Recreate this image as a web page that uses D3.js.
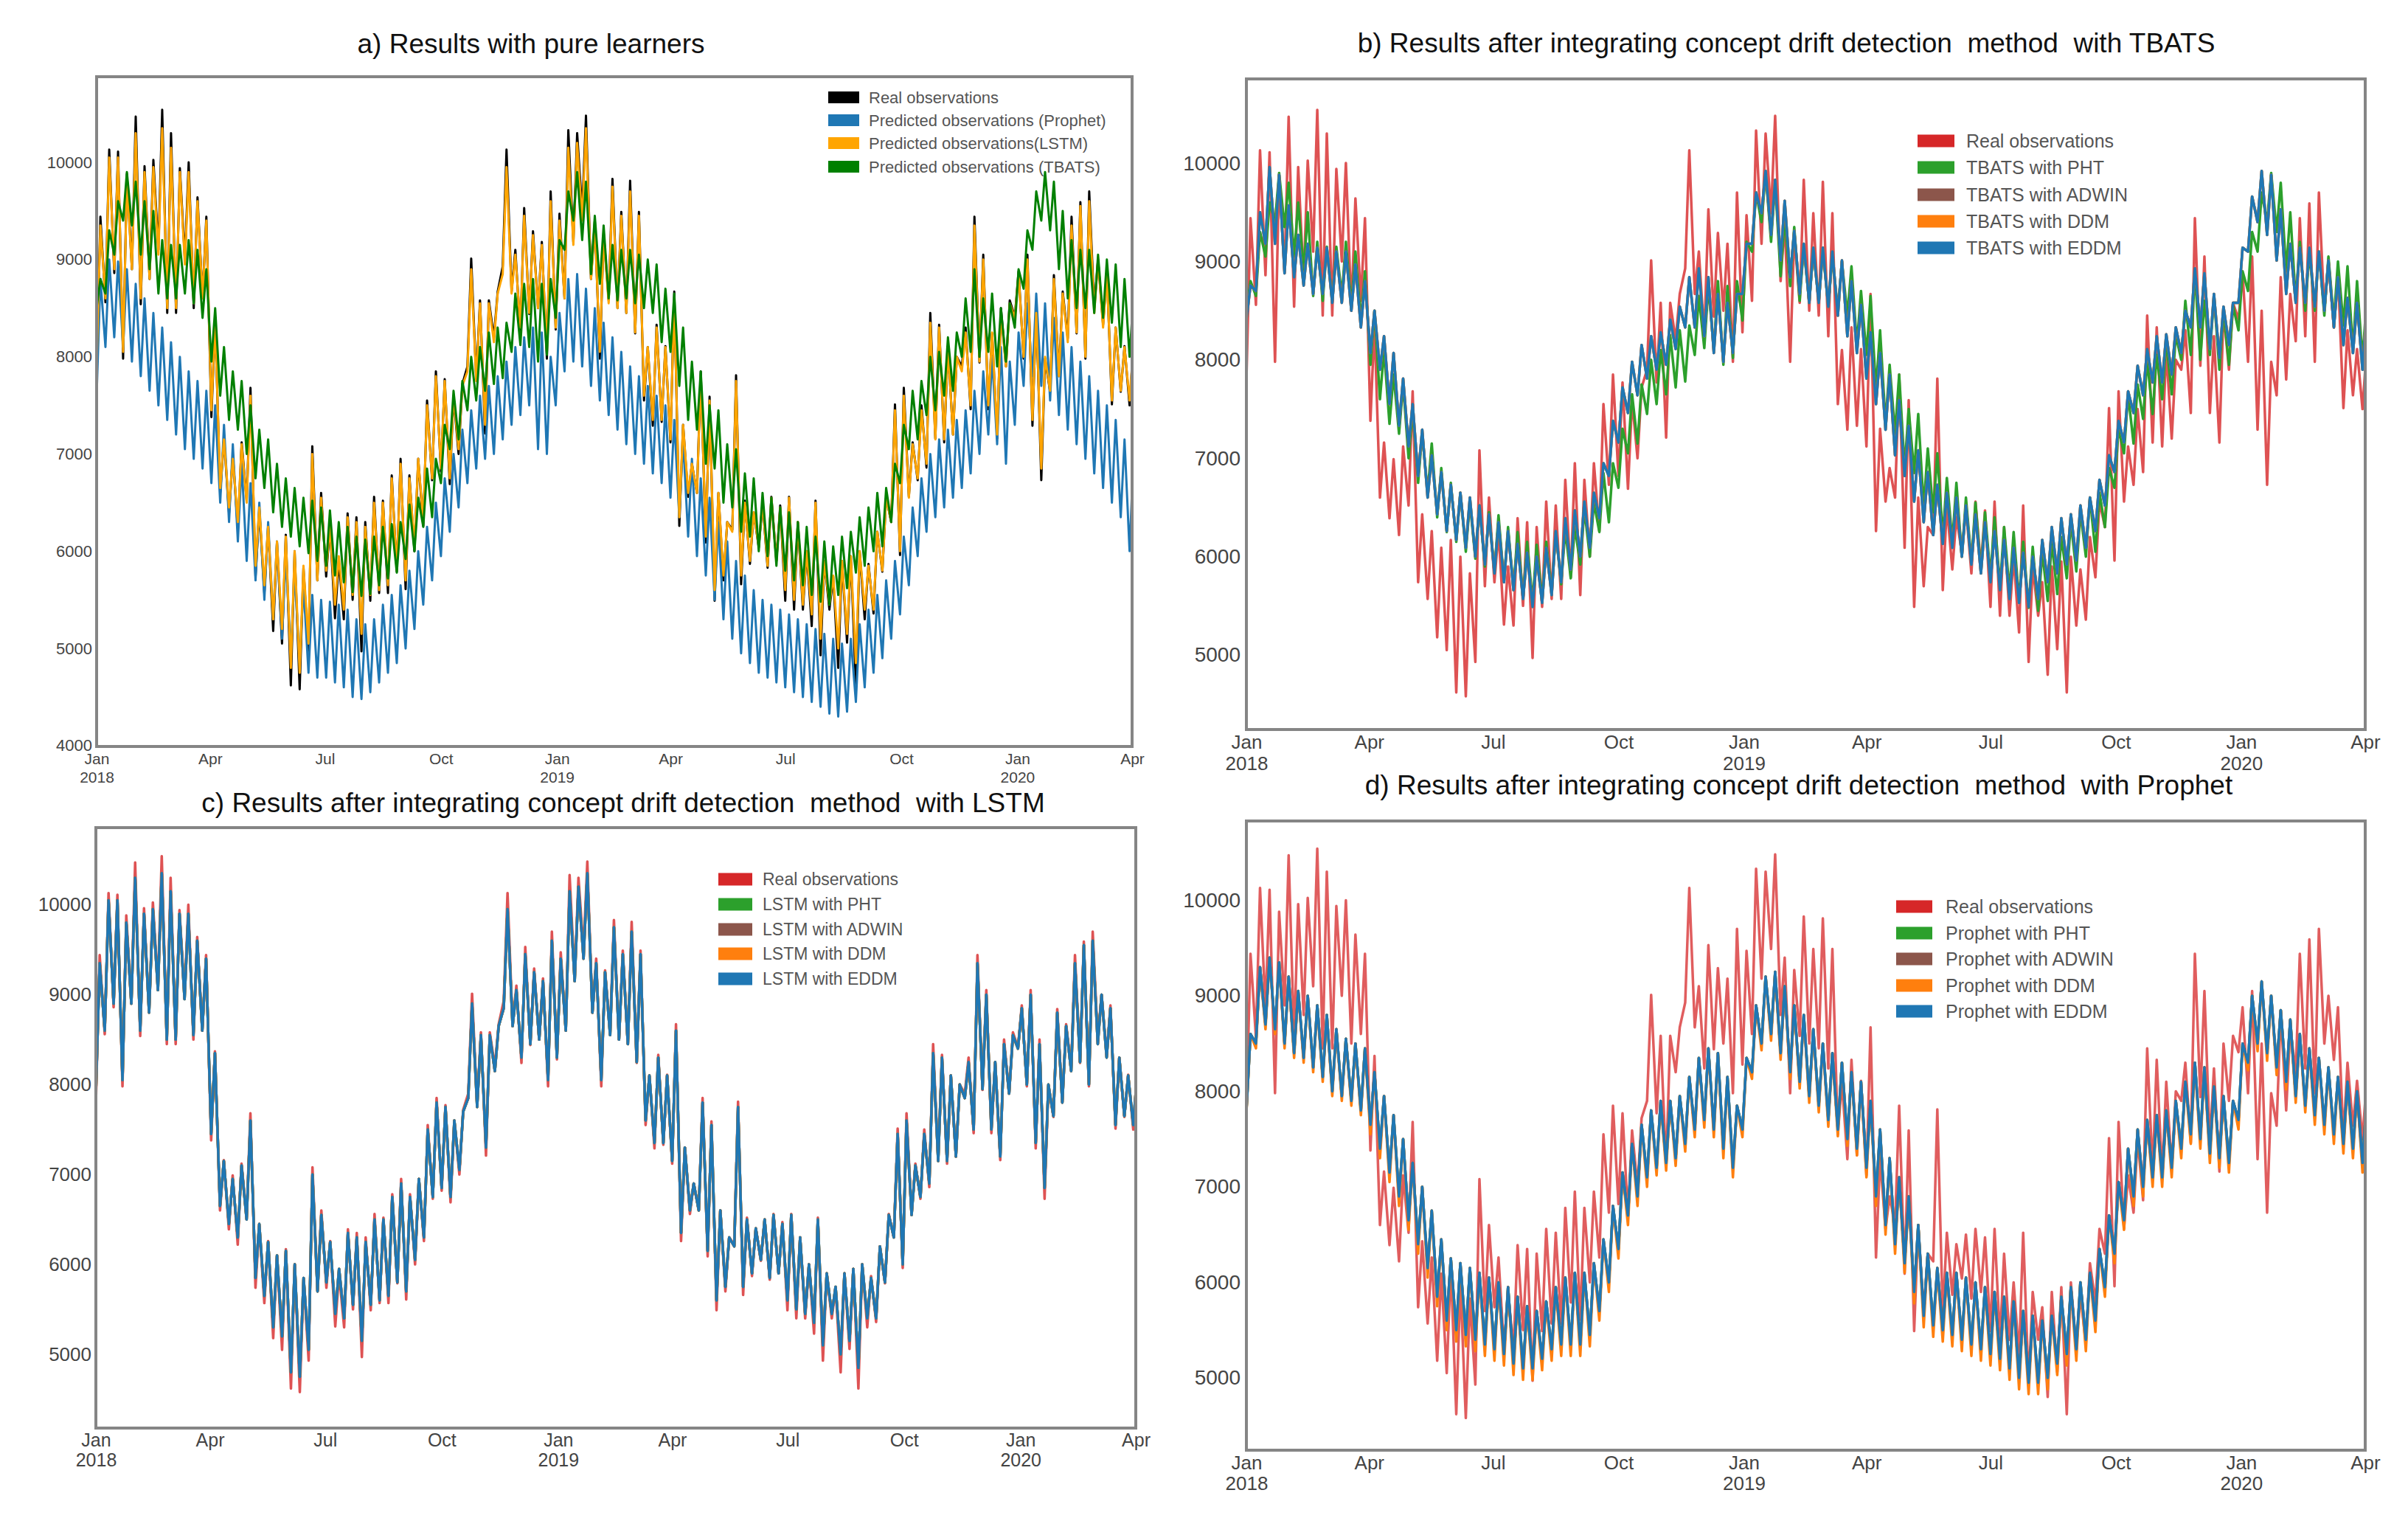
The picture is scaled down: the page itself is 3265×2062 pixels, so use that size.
<!DOCTYPE html>
<html><head><meta charset="utf-8">
<script src="https://cdn.jsdelivr.net/npm/d3@7"></script>
<style>html,body{margin:0;padding:0;background:#fff;}svg{display:block;}</style>
</head><body>
<script>
// ---- DATA (weekly readings: "Lo" = start-of-week dip, "Hi" = mid-week level) ----
const weekStart = "2018-01-01";
const realLo = [7800,8560,8860,7980,8900,8540,8800,9100,8450,8450,9000,8500,8600,7380,6600,6390,6220,6520,5740,5570,
5180,5050,4620,4580,4930,5700,5740,5310,5300,5500,4970,5490,5570,5570,5790,5610,6000,6260,6730,6820,
6690,7000,7900,7770,7210,8200,8930,8670,8240,8440,8500,7980,8280,8600,9180,9490,8800,7980,8580,8500,
8450,8240,7550,7290,7330,7120,6260,6560,6600,6090,5490,5700,6220,5660,5870,6040,5830,5900,5490,5400,
5400,5230,4930,5400,4800,5060,4620,5300,5360,5790,6300,5960,6560,6730,6860,7160,7120,7200,7900,7460,
7940,7460,7160,7900,8410,7980,7290,6730,7640,7800,8190,8240,7980,8500,8330,7510,7640,7500];
const realHi = [9440,10130,10110,9880,10470,9960,10025,10540,10300,9940,10000,9640,9440,8370,7160,6990,7120,7680,6430,6260,
6090,6170,6000,5830,7080,6600,6260,5900,6390,6350,6300,6560,6520,6780,6950,6780,6950,7550,7850,7770,
7590,7720,9010,8580,8580,8670,10130,9100,9530,9290,9180,9700,9470,10330,10300,10480,9400,9270,9830,9490,
9810,9490,8100,8330,8110,8670,7300,6900,7850,7590,6600,6300,7810,6520,6400,6500,6560,6470,6560,6300,
6000,6520,5900,5740,5900,5950,6000,5870,6200,6560,7510,7680,7120,7500,8450,8330,8100,8000,8300,9440,
9050,8240,8500,8580,8880,9050,8500,7980,8840,8670,9440,9590,9700,9000,8880,8300,8110,8100];
const prophetLo = [7600,8100,8200,8100,7950,7800,7650,7500,7350,7200,7050,6950,6850,6700,6500,6300,6100,5900,5700,5500,
5300,5100,4950,4850,4750,4700,4700,4650,4600,4500,4480,4550,4650,4750,4850,5000,5200,5450,5700,5950,
6200,6450,6700,6850,6950,7000,7150,7300,7400,7500,7050,7000,7500,7850,7950,7900,7700,7550,7400,7250,
7100,7000,6900,6800,6700,6550,6350,6150,5950,5750,5500,5300,5100,4950,4850,4750,4700,4650,4600,4550,
4500,4450,4400,4330,4300,4350,4450,4600,4750,4900,5100,5350,5650,5950,6200,6350,6450,6550,6650,6800,
7000,7200,7100,6900,7300,7700,7800,7700,7550,7400,7250,7100,6950,6800,6650,6500,6350,6000];
const prophetHi = [8800,9000,8980,8900,8750,8600,8450,8300,8150,8000,7850,7750,7650,7500,7300,7100,6900,6700,6500,6300,
6100,5950,5800,5650,5550,5500,5480,5450,5400,5300,5250,5300,5450,5550,5650,5800,6000,6250,6500,6750,
7000,7250,7450,7600,7700,7800,7950,8100,8200,8300,8250,8000,8450,8800,8850,8700,8500,8350,8200,8050,
7900,7800,7700,7600,7500,7350,7150,6950,6750,6550,6300,6100,5900,5750,5600,5500,5450,5400,5350,5300,
5250,5200,5150,5100,5050,5100,5250,5400,5550,5700,5900,6150,6450,6750,7000,7150,7250,7350,7450,7650,
7850,8000,8100,7950,8250,8550,8650,8550,8400,8250,8100,7950,7800,7650,7500,7350,7150,6950];
const lstmLo = [7900,8600,8900,8050,8900,8600,8800,9050,8500,8500,8950,8550,8600,7450,6650,6450,6300,6500,5850,5650,
5300,5200,4800,4750,5050,5700,5800,5450,5400,5550,5150,5550,5600,5650,5800,5700,6050,6300,6750,6850,
6750,7050,7850,7750,7300,8150,8850,8650,8300,8450,8500,8050,8300,8600,9150,9400,8800,8050,8550,8500,
8450,8250,7600,7350,7350,7150,6350,6600,6600,6150,5600,5750,6200,5750,5900,6050,5850,5900,5600,5500,
5450,5350,5100,5450,5000,5150,4850,5400,5400,5800,6300,6000,6550,6750,6900,7150,7150,7200,7850,7500,
7950,7500,7200,7900,8400,8000,7350,6850,7650,7800,8150,8250,8000,8450,8300,7550,7650,7550];
const lstmHi = [9350,10050,10050,9800,10300,9900,9950,10350,10150,9900,9900,9600,9400,8350,7150,6950,7100,7600,6450,6250,
6100,6150,6000,5850,7000,6550,6250,5950,6350,6300,6250,6500,6500,6750,6900,6750,6950,7500,7800,7750,
7600,7700,8900,8550,8550,8650,9950,9050,9450,9250,9150,9600,9400,10150,10200,10350,9350,9250,9750,9450,
9700,9450,8100,8300,8100,8600,7300,6900,7800,7550,6600,6300,7750,6500,6400,6500,6550,6450,6550,6300,
6000,6500,5900,5750,5900,5950,6000,5850,6200,6550,7450,7600,7100,7450,8350,8300,8100,8000,8250,9350,
9000,8250,8450,8550,8850,9000,8450,8000,8800,8650,9350,9550,9600,9000,8850,8300,8100,8100];
const tbatsLo = [8500,8650,9050,9400,9350,9050,8900,8650,8600,8600,8650,8550,8400,7950,7600,7350,7250,7000,6750,6650,
6400,6250,6150,6050,5980,5900,5850,5750,5680,5580,5540,5560,5650,5720,5780,5920,6000,6250,6350,6700,
7050,7150,7450,7550,7650,7720,7780,8050,8120,8100,7950,8020,8400,9100,9400,9200,8850,8750,8600,8580,
8600,8550,8500,8450,8150,8050,7700,7350,7250,6900,6850,6500,6450,6200,6150,6000,5950,5850,5800,5700,
5650,5550,5480,5450,5550,5620,5780,5850,6000,6050,6300,6700,7050,7150,7400,7450,7600,7650,8000,8050,
8000,8050,7900,7950,8300,8700,9100,9400,9300,8900,8600,8500,8500,8450,8400,8350,8100,8000];
const tbatsHi = [8800,9300,9600,9900,9800,9600,9500,9200,9150,9150,9200,9100,8900,8500,8100,7850,7750,7500,7250,7150,
6900,6750,6650,6550,6520,6450,6420,6300,6250,6150,6120,6150,6250,6280,6300,6480,6550,6850,6950,7300,
7650,7750,8000,8100,8250,8300,8350,8650,8750,8800,8750,8800,9200,9700,9900,9800,9450,9350,9150,9100,
9100,9050,9000,8950,8700,8650,8300,7950,7850,7500,7450,7100,7050,6800,6750,6600,6550,6450,6400,6300,
6250,6150,6100,6050,6150,6200,6350,6450,6600,6650,6900,7300,7650,7750,8000,8050,8200,8250,8600,8900,
8600,8650,8500,8550,8900,9300,9700,9900,9800,9500,9200,9100,9100,9050,9000,8950,8800,8600];
const tbatsDriftLo = [8410,8700,9180,9180,8880,8840,8755,8670,8670,8580,8580,8500,8330,8070,7900,7550,7330,7120,6820,6600,
6430,6260,6170,6090,6000,5920,5830,5740,5660,5570,5490,5530,5610,5740,5870,6000,6090,6390,6820,7160,
7460,7640,7810,7900,7950,8110,8330,8330,8240,8070,7980,8070,8670,9180,9490,9270,9010,8840,8670,8580,
8580,8540,8450,8240,8070,7810,7550,7290,7030,6820,6560,6350,6220,6130,6090,6000,5920,5830,5740,5660,
5570,5530,5490,5570,5740,5830,5920,5960,6090,6260,6520,6860,7160,7460,7640,7770,7770,7850,8070,8330,
8330,8110,8020,8150,8580,9100,9400,9270,9010,8670,8580,8580,8540,8500,8330,8150,8070,7900];
const tbatsDriftHi = [8755,9500,9960,9880,9570,9270,9180,9140,9140,9100,9100,8970,8800,8500,8240,8070,7810,7550,7290,7030,
6860,6730,6650,6600,6520,6430,6350,6260,6130,6040,6000,6090,6260,6390,6470,6560,6650,6950,7380,7720,
7980,8150,8240,8280,8410,8540,8840,8930,8840,8670,8580,8670,9180,9700,9920,9830,9616,9310,9180,9140,
9140,9100,9010,8800,8560,8280,8070,7850,7590,7330,7080,6860,6730,6650,6600,6520,6430,6350,6260,6170,
6090,6040,6000,6170,6300,6390,6430,6520,6600,6780,7030,7380,7680,7940,8110,8240,8260,8330,8500,8930,
8880,8670,8540,8580,9140,9660,9920,9880,9530,9180,9140,9140,9100,9010,8840,8630,8580,8500];
const prophetDriftLo = [7800,8500,8700,8650,8500,8400,8350,8250,8150,8000,7950,7900,7800,7650,7400,7150,6900,6650,6400,6150,
5850,5600,5500,5450,5400,5350,5300,5250,5150,5100,5100,5200,5300,5350,5350,5350,5450,5700,6000,6350,
6700,6900,7100,7200,7250,7300,7450,7600,7700,7600,7400,7200,7600,8200,8500,8600,8400,8200,8100,7950,
7850,7700,7600,7500,7400,7200,6900,6600,6400,6200,5900,5650,5550,5500,5450,5400,5350,5300,5250,5200,
5100,5000,4950,4950,5000,5150,5250,5300,5400,5600,5950,6300,6650,6900,7000,7100,7100,7200,7400,7550,
7500,7350,7300,7250,7700,8300,8500,8400,8250,8100,7950,7850,7750,7650,7550,7450,7400,7250];
const prophetDdmLo = [7780,8450,8650,8600,8450,8350,8300,8200,8100,7950,7900,7850,7750,7550,7300,7050,6800,6550,6300,6050,
5750,5500,5380,5330,5280,5230,5180,5130,5030,4980,4980,5080,5180,5230,5230,5230,5330,5600,5900,6250,
6600,6800,7000,7120,7170,7220,7370,7520,7620,7520,7300,7100,7520,8130,8430,8530,8330,8130,8030,7880,
7780,7630,7530,7430,7330,7100,6800,6500,6300,6100,5780,5530,5430,5380,5330,5280,5230,5180,5130,5080,
4980,4880,4830,4830,4880,5030,5130,5180,5280,5480,5850,6200,6550,6800,6900,7000,7000,7100,7300,7450,
7400,7250,7200,7150,7600,8220,8420,8320,8170,8020,7880,7780,7650,7550,7450,7350,7300,7150];
const prophetDriftHi = [8600,9300,9400,9350,9200,9050,9000,8900,8800,8650,8550,8500,8450,8200,7950,7750,7500,7250,7000,6750,
6450,6250,6200,6150,6100,6050,6000,5950,5850,5750,5700,5800,5950,6050,6100,6100,6200,6450,6800,7150,
7450,7650,7800,7900,7900,7950,8150,8350,8450,8400,8150,7850,8350,8900,9200,9250,9100,8900,8800,8650,
8500,8400,8300,8200,8100,7900,7600,7300,7100,6900,6600,6300,6150,6100,6100,6050,6000,5950,5900,5850,
5800,5700,5650,5600,5650,5850,5950,6000,6100,6350,6700,7050,7400,7600,7700,7750,7800,7900,8100,8300,
8250,8050,7950,7900,8500,9000,9150,9000,8850,8750,8600,8450,8350,8250,8150,8100,8000,7900];

const xTickDates = ["2018-01-01","2018-04-01","2018-07-01","2018-10-01","2019-01-01","2019-04-01","2019-07-01","2019-10-01","2020-01-01","2020-04-01"];
const xTickMonths = ["Jan","Apr","Jul","Oct","Jan","Apr","Jul","Oct","Jan","Apr"];
const xTickYears = ["2018","","","","2019","","","","2020",""];
const yTicksA = [4000,5000,6000,7000,8000,9000,10000];
const yTicksOther = [5000,6000,7000,8000,9000,10000];
const xDomain = ["2018-01-01","2020-04-01"];

// ---- helpers ----
const t0 = Date.parse(weekStart + "T00:00:00Z");
const dayMs = 86400000;
function weeklyPoints(lo, hi) {
  const pts = [];
  lo.forEach((v, k) => {
    pts.push({ d: new Date(t0 + 7 * k * dayMs), v: v });
    pts.push({ d: new Date(t0 + (7 * k + 3) * dayMs), v: hi[k] });
  });
  return pts;
}
const parse = s => new Date(Date.parse(s + "T00:00:00Z"));

const W = 3265, H = 2062;
const svg = d3.select("body").append("svg").attr("width", W).attr("height", H);
svg.append("rect").attr("width", W).attr("height", H).attr("fill", "#fff");

const FONT = "'Liberation Sans', Arial, sans-serif";

const panels = [
  { id: "a", box: [131, 104, 1535, 1012], dom: [3992, 10880], yt: yTicksA, yFont: 22, yPad: 6, xFont: 21, xOff: [24, 49],
    title: "a) Results with pure learners", tx: 720, ty: 72, tFont: 37, lw: 3,
    series: [
      { lo: realLo, hi: realHi, c: "#000000", name: "Real observations" },
      { lo: prophetLo, hi: prophetHi, c: "#1f77b4", name: "Predicted observations (Prophet)" },
      { lo: lstmLo, hi: lstmHi, c: "#ffa500", name: "Predicted observations(LSTM)" },
      { lo: tbatsLo, hi: tbatsHi, c: "#008000", name: "Predicted observations (TBATS)" }
    ],
    leg: { x: 1123, w: 42, h: 16, ys: [132, 163, 194, 226], tx: 1178, font: 22 } },
  { id: "b", box: [1690, 107, 3207, 989], dom: [4243, 10855], yt: yTicksOther, yFont: 28, yPad: 8, xFont: 26, xOff: [26, 55],
    title: "b) Results after integrating concept drift detection  method  with TBATS", tx: 2422, ty: 71, tFont: 37, lw: 3.5,
    series: [
      { lo: realLo, hi: realHi, c: "#d62728", name: "Real observations", op: 0.8 },
      { lo: tbatsLo, hi: tbatsHi, c: "#2ca02c", name: "TBATS with PHT" },
      { lo: tbatsDriftLo, hi: tbatsDriftHi, c: "#8c564b", name: "TBATS with ADWIN" },
      { lo: tbatsDriftLo, hi: tbatsDriftHi, c: "#ff7f0e", name: "TBATS with DDM" },
      { lo: tbatsDriftLo, hi: tbatsDriftHi, c: "#1f77b4", name: "TBATS with EDDM" }
    ],
    leg: { x: 2600, w: 50, h: 17, ys: [191, 227, 264, 300, 336], tx: 2666, font: 25 } },
  { id: "c", box: [130, 1122, 1540, 1936], dom: [4180, 10857], yt: yTicksOther, yFont: 26, yPad: 6, xFont: 25, xOff: [25, 52],
    title: "c) Results after integrating concept drift detection  method  with LSTM", tx: 845, ty: 1101, tFont: 37, lw: 3.5,
    series: [
      { lo: realLo, hi: realHi, c: "#d62728", name: "Real observations", op: 0.8 },
      { lo: lstmLo, hi: lstmHi, c: "#2ca02c", name: "LSTM with PHT" },
      { lo: lstmLo, hi: lstmHi, c: "#8c564b", name: "LSTM with ADWIN" },
      { lo: lstmLo, hi: lstmHi, c: "#ff7f0e", name: "LSTM with DDM" },
      { lo: lstmLo, hi: lstmHi, c: "#1f77b4", name: "LSTM with EDDM" }
    ],
    leg: { x: 974, w: 46, h: 17, ys: [1192, 1226, 1260, 1293, 1327], tx: 1034, font: 23 } },
  { id: "d", box: [1690, 1113, 3207, 1966], dom: [4243, 10830], yt: yTicksOther, yFont: 28, yPad: 8, xFont: 26, xOff: [26, 54],
    title: "d) Results after integrating concept drift detection  method  with Prophet", tx: 2439, ty: 1077, tFont: 37, lw: 3.5,
    series: [
      { lo: realLo, hi: realHi, c: "#d62728", name: "Real observations", op: 0.75 },
      { lo: prophetDriftLo, hi: prophetDriftHi, c: "#2ca02c", name: "Prophet with PHT" },
      { lo: prophetDriftLo, hi: prophetDriftHi, c: "#8c564b", name: "Prophet with ADWIN" },
      { lo: prophetDdmLo, hi: prophetDriftHi, c: "#ff7f0e", name: "Prophet with DDM" },
      { lo: prophetDriftLo, hi: prophetDriftHi, c: "#1f77b4", name: "Prophet with EDDM" }
    ],
    leg: { x: 2571, w: 49, h: 17, ys: [1229, 1265, 1300, 1336, 1371], tx: 2638, font: 25 } }
];

panels.forEach(p => {
  const [x0, y0, x1, y1] = p.box;
  const x = d3.scaleUtc().domain(xDomain.map(parse)).range([x0, x1]);
  const y = d3.scaleLinear().domain(p.dom).range([y1, y0]);
  const g = svg.append("g").attr("class", "panel-" + p.id);

  // title
  g.append("text").attr("x", p.tx).attr("y", p.ty).attr("text-anchor", "middle")
    .attr("font-family", FONT).attr("font-size", p.tFont).attr("fill", "#111")
    .style("white-space", "pre").text(p.title);

  // clip
  const cid = "clip-" + p.id;
  svg.append("defs").append("clipPath").attr("id", cid)
    .append("rect").attr("x", x0).attr("y", y0).attr("width", x1 - x0).attr("height", y1 - y0);

  const line = d3.line().x(d => x(d.d)).y(d => y(d.v)).curve(d3.curveLinear);
  const lg = g.append("g").attr("clip-path", `url(#${cid})`);
  p.series.forEach(s => {
    lg.append("path").datum(weeklyPoints(s.lo, s.hi))
      .attr("d", line).attr("fill", "none").attr("stroke", s.c)
      .attr("stroke-width", p.lw).attr("stroke-linejoin", "round")
      .attr("stroke-opacity", s.op || 1);
  });

  // y axis
  const ya = g.append("g").attr("transform", `translate(${x0},0)`)
    .call(d3.axisLeft(y).tickValues(p.yt).tickSize(0).tickPadding(p.yPad).tickFormat(d3.format("d")));
  ya.select(".domain").remove();
  ya.selectAll("text").attr("font-family", FONT).attr("font-size", p.yFont).attr("fill", "#444");

  // x axis
  const xa = g.append("g").attr("transform", `translate(0,${y1})`)
    .call(d3.axisBottom(x).tickValues(xTickDates.map(parse)).tickSize(0).tickFormat((d, i) => xTickMonths[i]));
  xa.select(".domain").remove();
  xa.selectAll("text").attr("font-family", FONT).attr("font-size", p.xFont).attr("fill", "#444")
    .attr("y", p.xOff[0]).attr("dy", null)
    .each(function (d, i) {
      if (xTickYears[i]) {
        d3.select(this).append("tspan").attr("x", 0).attr("dy", p.xOff[1] - p.xOff[0]).text(xTickYears[i]);
      }
    });

  // frame
  g.append("rect").attr("x", x0).attr("y", y0).attr("width", x1 - x0).attr("height", y1 - y0)
    .attr("fill", "none").attr("stroke", "#858585").attr("stroke-width", 4);

  // legend
  const L = p.leg;
  p.series.forEach((s, i) => {
    g.append("rect").attr("x", L.x).attr("y", L.ys[i] - L.h / 2).attr("width", L.w).attr("height", L.h).attr("fill", s.c);
    g.append("text").attr("x", L.tx).attr("y", L.ys[i]).attr("dy", "0.35em")
      .attr("font-family", FONT).attr("font-size", L.font).attr("fill", "#555").text(s.name);
  });
});
</script>
</body></html>
